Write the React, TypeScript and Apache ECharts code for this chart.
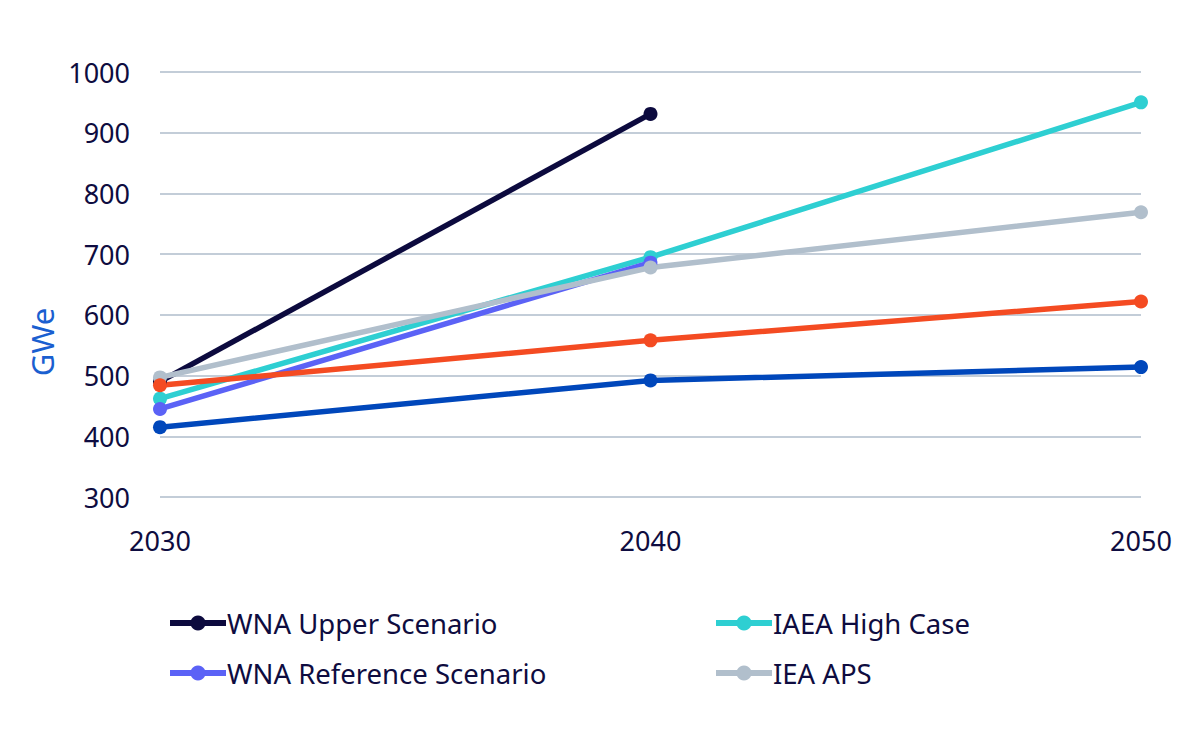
import React, { useEffect, useRef } from "react";
import * as echarts from "echarts";

const years = [2030, 2040, 2050];
const wnaUpper = [490, 931];
const iaeaHigh = [462, 695, 950];
const wnaReference = [445, 686];
const ieaAps = [497, 678, 769];
const seriesOrange = [484, 558, 622];
const seriesBlue = [415, 492, 514];
const yTicks = { min: 300, max: 1000, interval: 100 };

const TEXT = "#0e0c40";
const FONT = "'Noto Sans', sans-serif";

function pairs(vals: number[]) {
  return vals.map((v, i) => [years[i], v]);
}

export default function App() {
  const ref = useRef<HTMLDivElement>(null);
  useEffect(() => {
    if (!ref.current) return;
    const chart = echarts.init(ref.current, undefined, { renderer: "svg" });
    const mk = (name: string, vals: number[], color: string) => ({
      name,
      type: "line",
      data: pairs(vals),
      symbol: "circle",
      symbolSize: 14,
      lineStyle: { width: 5.5, color },
      itemStyle: { color },
      emphasis: { disabled: true },
    });
    const legendBase = {
      orient: "vertical",
      top: 604,
      itemWidth: 56,
      itemHeight: 19,
      itemGap: 22,
      lineStyle: { width: 6 },
      textStyle: { color: TEXT, fontSize: 27.5, fontFamily: FONT, padding: [0, 0, 0, -4] },
    };
    chart.setOption({
      animation: false,
      textStyle: { fontFamily: FONT },
      grid: { left: 160, right: 59, top: 72, bottom: 242, containLabel: false },
      xAxis: {
        type: "value",
        min: 2030,
        max: 2050,
        interval: 10,
        axisLine: { show: false },
        axisTick: { show: false },
        splitLine: { show: false },
        axisLabel: { color: TEXT, fontSize: 27, margin: 30, fontFamily: FONT, formatter: (v: number) => String(v) },
      },
      yAxis: {
        type: "value",
        min: yTicks.min,
        max: yTicks.max,
        interval: yTicks.interval,
        axisLine: { show: false },
        axisTick: { show: false },
        splitLine: { lineStyle: { color: "#c3cdd8", width: 2 } },
        axisLabel: { color: TEXT, fontSize: 27, margin: 30, fontFamily: FONT, formatter: (v: number) => String(v) },
      },
      legend: [
        { ...legendBase, left: 162, data: ["WNA Upper Scenario", "WNA Reference Scenario"] },
        { ...legendBase, left: 708, data: ["IAEA High Case", "IEA APS"] },
      ],
      graphic: [
        {
          type: "text",
          x: 42,
          y: 342,
          rotation: Math.PI / 2,
          style: {
            text: "GWe",
            fill: "#1a5fd0",
            fontSize: 31,
            fontFamily: FONT,
            align: "center",
            verticalAlign: "middle",
          },
        },
      ],
      series: [
        mk("WNA Upper Scenario", wnaUpper, "#0c0a3e"),
        mk("IAEA High Case", iaeaHigh, "#2ecfd2"),
        mk("WNA Reference Scenario", wnaReference, "#5b62f6"),
        mk("IEA APS", ieaAps, "#b1bfcc"),
        mk("Nuclear Series A", seriesOrange, "#f44b22"),
        mk("Nuclear Series B", seriesBlue, "#0047bb"),
      ],
    });
    return () => chart.dispose();
  }, []);
  return <div ref={ref} style={{ width: 1200, height: 739, position: "absolute", left: 0, top: 0 }} />;
}
